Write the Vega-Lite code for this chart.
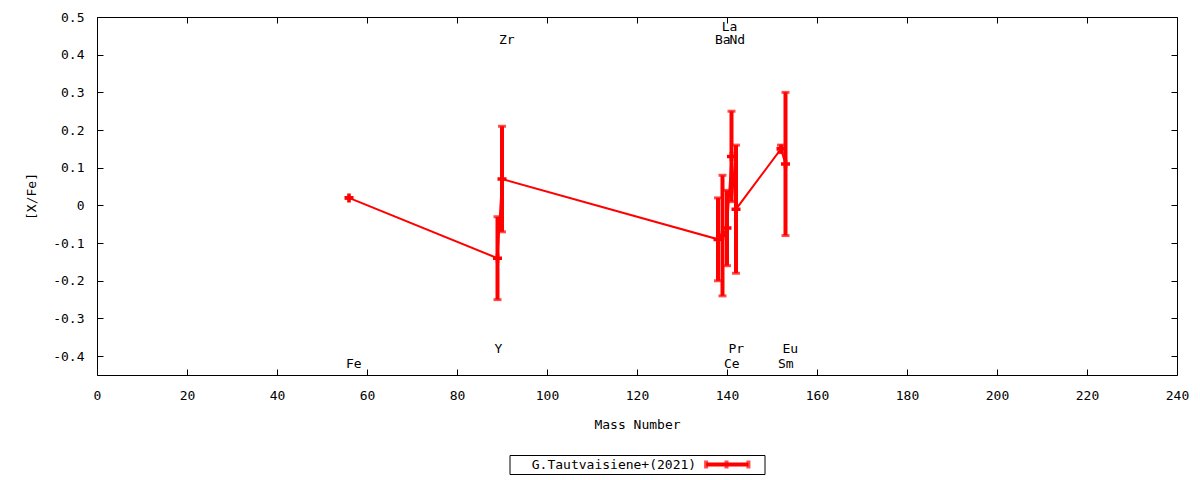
{
  "$schema": "https://vega.github.io/schema/vega-lite/v6.json",
  "description": "[X/Fe] vs mass number, G.Tautvaisiene+(2021)",
  "padding": {"left": 24, "top": 10, "right": 11, "bottom": 4},
  "background": "white",
  "config": {
    "font": "DejaVu Sans Mono",
    "view": {"stroke": "black", "strokeWidth": 1},
    "axis": {
      "labelFont": "DejaVu Sans Mono",
      "labelFontSize": 13,
      "labelColor": "black",
      "labelFlush": false,
      "titleFont": "DejaVu Sans Mono",
      "titleFontSize": 13,
      "titleFontWeight": "normal",
      "titleColor": "black",
      "tickColor": "black",
      "domainColor": "black",
      "grid": false
    }
  },
  "datasets": {
    "abund": [
      {"el": "Fe", "mass": 56, "val": 0.02, "lo": 0.02, "hi": 0.02},
      {"el": "Y", "mass": 89, "val": -0.14, "lo": -0.25, "hi": -0.03},
      {"el": "Zr", "mass": 90, "val": 0.07, "lo": -0.07, "hi": 0.21},
      {"el": "Ba", "mass": 138, "val": -0.09, "lo": -0.2, "hi": 0.02},
      {"el": "La", "mass": 139, "val": -0.08, "lo": -0.24, "hi": 0.08},
      {"el": "Ce", "mass": 140, "val": -0.06, "lo": -0.16, "hi": 0.04},
      {"el": "Pr", "mass": 141, "val": 0.13, "lo": 0.01, "hi": 0.25},
      {"el": "Nd", "mass": 142, "val": -0.01, "lo": -0.18, "hi": 0.16},
      {"el": "Sm", "mass": 152, "val": 0.15, "lo": 0.14, "hi": 0.16},
      {"el": "Eu", "mass": 153, "val": 0.11, "lo": -0.08, "hi": 0.3}
    ],
    "names": [
      {"el": "Fe", "lx": 56, "ly": -0.42},
      {"el": "Y", "lx": 89, "ly": -0.38},
      {"el": "Zr", "lx": 90, "ly": 0.44},
      {"el": "Ba", "lx": 138, "ly": 0.44},
      {"el": "La", "lx": 139.5, "ly": 0.474},
      {"el": "Ce", "lx": 140, "ly": -0.42},
      {"el": "Pr", "lx": 141, "ly": -0.38},
      {"el": "Nd", "lx": 141.2, "ly": 0.44},
      {"el": "Sm", "lx": 152, "ly": -0.42},
      {"el": "Eu", "lx": 153, "ly": -0.38}
    ],
    "key": [
      {"label": "G.Tautvaisiene+(2021)", "tx": 0.732, "x1": 0.771, "x2": 0.937, "xm": 0.851, "y": 0.5}
    ]
  },
  "bounds": "flush",
  "center": true,
  "spacing": 80,
  "vconcat": [
    {
      "width": 1080,
      "height": 358,
      "data": {"name": "abund"},
      "resolve": {"axis": {"x": "independent", "y": "independent"}},
      "layer": [
        {
          "mark": {"type": "line", "color": "#ff0000", "strokeWidth": 2},
          "encoding": {
            "x": {
              "field": "mass", "type": "quantitative",
              "scale": {"domain": [0, 240], "nice": false, "zero": false},
              "axis": {
                "orient": "bottom", "title": "Mass Number",
                "values": [0, 20, 40, 60, 80, 100, 120, 140, 160, 180, 200, 220, 240],
                "tickSize": -6, "labelPadding": 20, "titlePadding": 16, "domain": false
              }
            },
            "y": {
              "field": "val", "type": "quantitative",
              "scale": {"domain": [-0.45, 0.5], "nice": false, "zero": false},
              "axis": {
                "orient": "left", "title": "[X/Fe]",
                "values": [-0.4, -0.3, -0.2, -0.1, 0, 0.1, 0.2, 0.3, 0.4, 0.5],
                "labelExpr": "datum.value == 0 ? '0' : replace(format(datum.value, '.1f'), '\u2212', '-')",
                "tickSize": -6, "labelPadding": 19, "domain": false,
                "titleX": -66, "titleY": 179, "titleAngle": -90,
                "titleAlign": "center", "titleBaseline": "middle"
              }
            }
          }
        },
        {
          "mark": {"type": "rule", "color": "#ff0000", "strokeWidth": 4},
          "encoding": {
            "x": {"field": "mass", "type": "quantitative", "axis": null},
            "y": {"field": "lo", "type": "quantitative", "axis": null},
            "y2": {"field": "hi"}
          }
        },
        {
          "mark": {"type": "tick", "color": "#ff0000", "orient": "horizontal", "size": 8, "thickness": 3},
          "encoding": {
            "x": {"field": "mass", "type": "quantitative", "axis": null},
            "y": {"field": "lo", "type": "quantitative", "axis": null}
          }
        },
        {
          "mark": {"type": "tick", "color": "#ff0000", "orient": "horizontal", "size": 8, "thickness": 3},
          "encoding": {
            "x": {"field": "mass", "type": "quantitative", "axis": null},
            "y": {"field": "hi", "type": "quantitative", "axis": null}
          }
        },
        {
          "mark": {"type": "point", "shape": "cross", "filled": true, "color": "#ff0000", "size": 81, "opacity": 1},
          "encoding": {
            "x": {"field": "mass", "type": "quantitative", "axis": null},
            "y": {"field": "val", "type": "quantitative", "axis": null}
          }
        },
        {
          "data": {"name": "names"},
          "mark": {"type": "text", "align": "left", "baseline": "middle", "dx": -3, "font": "DejaVu Sans Mono", "fontSize": 13, "color": "black"},
          "encoding": {
            "x": {"field": "lx", "type": "quantitative", "axis": null},
            "y": {"field": "ly", "type": "quantitative", "axis": null},
            "text": {"field": "el"}
          }
        },
        {
          "mark": {"type": "point", "opacity": 0},
          "encoding": {
            "x": {
              "field": "mass", "type": "quantitative",
              "axis": {
                "orient": "top", "title": null, "labels": false, "domain": false,
                "values": [0, 20, 40, 60, 80, 100, 120, 140, 160, 180, 200, 220, 240],
                "tickSize": -6
              }
            },
            "y": {
              "field": "val", "type": "quantitative",
              "axis": {
                "orient": "right", "title": null, "labels": false, "domain": false,
                "values": [-0.4, -0.3, -0.2, -0.1, 0, 0.1, 0.2, 0.3, 0.4, 0.5],
                "tickSize": -6
              }
            }
          }
        }
      ]
    },
    {
      "width": 255,
      "height": 19,
      "data": {"name": "key"},
      "layer": [
        {
          "mark": {"type": "text", "align": "right", "baseline": "middle", "font": "DejaVu Sans Mono", "fontSize": 13, "color": "black"},
          "encoding": {
            "x": {"field": "tx", "type": "quantitative", "scale": {"domain": [0, 1]}, "axis": null},
            "y": {"field": "y", "type": "quantitative", "scale": {"domain": [0, 1]}, "axis": null},
            "text": {"field": "label"}
          }
        },
        {
          "mark": {"type": "rule", "color": "#ff0000", "strokeWidth": 4},
          "encoding": {
            "x": {"field": "x1", "type": "quantitative", "axis": null},
            "x2": {"field": "x2"},
            "y": {"field": "y", "type": "quantitative", "axis": null}
          }
        },
        {
          "mark": {"type": "tick", "color": "#ff0000", "orient": "vertical", "size": 8, "thickness": 4},
          "encoding": {
            "x": {"field": "x1", "type": "quantitative", "axis": null},
            "y": {"field": "y", "type": "quantitative", "axis": null}
          }
        },
        {
          "mark": {"type": "tick", "color": "#ff0000", "orient": "vertical", "size": 8, "thickness": 4},
          "encoding": {
            "x": {"field": "x2", "type": "quantitative", "axis": null},
            "y": {"field": "y", "type": "quantitative", "axis": null}
          }
        },
        {
          "mark": {"type": "tick", "color": "#ff0000", "orient": "vertical", "size": 8, "thickness": 4},
          "encoding": {
            "x": {"field": "xm", "type": "quantitative", "axis": null},
            "y": {"field": "y", "type": "quantitative", "axis": null}
          }
        }
      ]
    }
  ]
}
